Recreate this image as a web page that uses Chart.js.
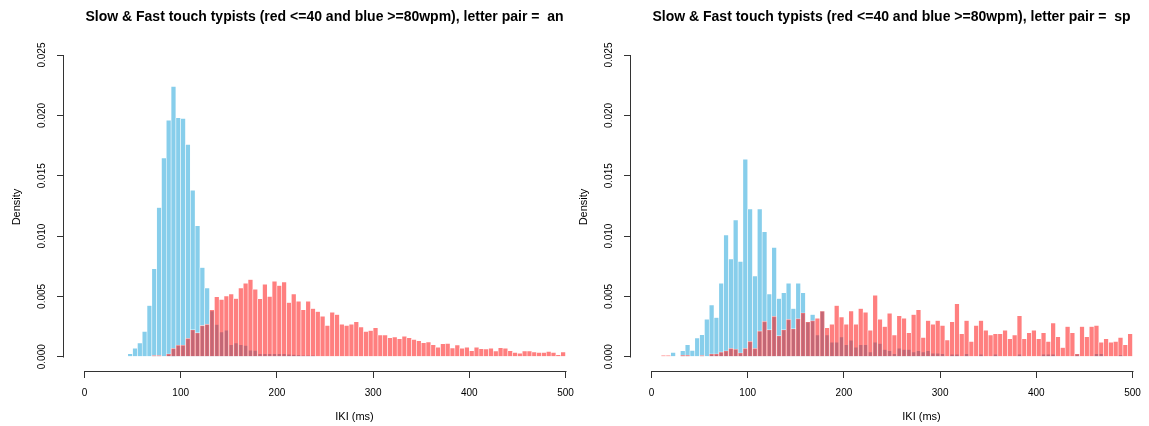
<!DOCTYPE html>
<html>
<head>
<meta charset="utf-8">
<title>IKI histograms</title>
<script src="https://cdn.jsdelivr.net/npm/chart.js@4.4.1/dist/chart.umd.min.js"></script>
<style>
  html, body { margin: 0; padding: 0; background: #fff; overflow: hidden; }
  body { width: 1149px; height: 426px; position: relative; }
  .panel { position: absolute; top: 0; }
</style>
</head>
<body>
<div class="panel" style="left:0"><canvas id="chartAn" width="650" height="426"></canvas></div>
<div class="panel" style="left:567px"><canvas id="chartSp" width="650" height="426"></canvas></div>
<script>
// histogram bins are 5 ms wide, 0..500 ms
const binWidth = 5;
const xTicks = [0, 100, 200, 300, 400, 500];
const yTicks = [0, 0.005, 0.010, 0.015, 0.020, 0.025];

// letter pair "an": density per bin, fast (>=80wpm) and slow (<=40wpm)
const anFast = [
  0, 0, 0, 0, 0, 0, 0, 0, 0, 0.00025,
  0.0007, 0.00114, 0.0021, 0.00425, 0.0073, 0.01236, 0.01647, 0.0196, 0.0224, 0.0198,
  0.01975, 0.0176, 0.0138, 0.01086, 0.0074, 0.0057, 0.0038, 0.00267, 0.00205, 0.0022,
  0.001, 0.00114, 0.001, 0.00094, 0.00055, 0.00053, 0.00025, 0.00025, 0.00025, 0.00025,
  0.00025, 0.00025, 0.0002, 0.00018, 0.00015, 0.0001, 0.0001, 0.0001, 0, 0,
  0, 0, 0, 0, 0, 0, 0, 0, 0, 0,
  0, 0, 0, 0, 0, 0, 0, 0, 0, 0,
  0, 0, 0, 0, 0, 0, 0, 0, 0, 0,
  0, 0, 0, 0, 0, 0, 0, 0, 0, 0,
  0, 0, 0, 0, 0, 0, 0, 0, 0, 0
];
const anSlow = [
  0, 0, 0, 0, 0, 0, 0, 0, 0, 0,
  0, 0, 0, 0, 0.00012, 0.00012, 0, 0.00025, 0.0007, 0.00097,
  0.00097, 0.00153, 0.00225, 0.002, 0.0026, 0.0027, 0.0039, 0.00497, 0.00475, 0.00503,
  0.0052, 0.00483, 0.0057, 0.0061, 0.0064, 0.0056, 0.0048, 0.006, 0.005, 0.00625,
  0.0059, 0.0062, 0.0045, 0.0052, 0.0046, 0.0039, 0.0046, 0.004, 0.00375, 0.00336,
  0.0026, 0.0037, 0.0035, 0.0027, 0.0026, 0.0027, 0.0029, 0.00247, 0.0021, 0.00217,
  0.0024, 0.0018, 0.0018, 0.00158, 0.00164, 0.0015, 0.0017, 0.00158, 0.00144, 0.00133,
  0.00117, 0.00122, 0.001, 0.0008, 0.00108, 0.00111, 0.00072, 0.00097, 0.0007, 0.0008,
  0.0005, 0.0008, 0.00067, 0.00065, 0.0007, 0.00047, 0.00075, 0.0007, 0.0005, 0.00036,
  0.0003, 0.00047, 0.00047, 0.0004, 0.00036, 0.00036, 0.00044, 0.00036, 0.00017, 0.0004
];

// letter pair "sp"
const spFast = [
  0, 0, 0, 0, 0.00036, 0, 0.0005, 0.001, 0.00053, 0.00156,
  0.00183, 0.0031, 0.0043, 0.00325, 0.0061, 0.0101, 0.0081, 0.01133, 0.0079, 0.01636,
  0.01225, 0.0067, 0.01225, 0.01036, 0.0052, 0.00906, 0.00483, 0.0053, 0.0061, 0.004,
  0.0061, 0.0053, 0.0029, 0.0035, 0.0018, 0.0038, 0.0018, 0.0012, 0.0012, 0.00164,
  0.001, 0.00136, 0.0008, 0.001, 0.001, 0.0004, 0.0012, 0.0011, 0.0006, 0.0005,
  0.00025, 0.0007, 0.0006, 0.0006, 0.0004, 0.0005, 0.0004, 0.0005, 0.0003, 0.0003,
  0.00025, 0, 0.0002, 0.0002, 0, 0.00025, 0, 0, 0.0002, 0,
  0, 0.0002, 0, 0, 0, 0, 0.0002, 0, 0, 0,
  0, 0.0002, 0.0002, 0.0002, 0, 0, 0, 0, 0.00025, 0,
  0, 0, 0.00025, 0.00025, 0, 0, 0, 0.00015, 0, 0
];
const spSlow = [
  0, 0, 0.00012, 0.00012, 0, 0, 0.00014, 0.00014, 0, 0,
  0.00012, 0, 0.00025, 0.00025, 0.0004, 0.0005, 0.0007, 0.00064, 0.00033, 0.0007,
  0.00128, 0.0007, 0.00214, 0.00294, 0.00225, 0.00336, 0.00175, 0.00225, 0.0031, 0.00233,
  0.00317, 0.00364, 0.0029, 0.003, 0.0032, 0.0038, 0.0024, 0.0027, 0.00425, 0.0033,
  0.0027, 0.0038, 0.0027, 0.004, 0.0037, 0.0022, 0.0051, 0.0031, 0.0025, 0.0036,
  0.0018, 0.0034, 0.0032, 0.002, 0.0035, 0.0039, 0.0016, 0.003, 0.0027, 0.003,
  0.0026, 0.0014, 0.0029, 0.0044, 0.0019, 0.003, 0.00127, 0.0026, 0.003, 0.0022,
  0.0018, 0.0019, 0.0019, 0.0022, 0.0015, 0.0018, 0.0034, 0.0015, 0.002, 0.0022,
  0.0015, 0.002, 0.00127, 0.0028, 0.00166, 0.00077, 0.0025, 0.002, 0.00025, 0.0025,
  0.00166, 0.0025, 0.0026, 0.0012, 0.0015, 0.0012, 0.00127, 0.0016, 0.001, 0.0019
];

const fastColor = '#87ceeb';
const slowColor = 'rgba(255, 0, 0, 0.5)';
const edgeColor = 'rgba(255, 255, 255, 0.7)';
const axisColor = '#333';
const textColor = '#000';
const family = '"Liberation Sans", Arial, Helvetica, sans-serif';

// one bar per non-empty bin, placed at the bin centre
function toPoints(values) {
  return values
    .map((v, i) => ({ x: i * binWidth + binWidth / 2, y: v }))
    .filter(p => p.y > 0);
}

// R-style axis lines: only from the first to the last tick
const axisLines = {
  id: 'axisLines',
  afterDraw(chart) {
    const { ctx, chartArea, scales: { x, y } } = chart;
    ctx.save();
    ctx.strokeStyle = axisColor;
    ctx.lineWidth = 1;
    ctx.beginPath();
    const yb = Math.round(chartArea.bottom) + 0.5;
    ctx.moveTo(Math.round(x.getPixelForValue(xTicks[0])) + 0.5, yb);
    ctx.lineTo(Math.round(x.getPixelForValue(xTicks[xTicks.length - 1])) + 0.5, yb);
    const xl = Math.round(chartArea.left) - 0.5;
    ctx.moveTo(xl, Math.round(y.getPixelForValue(yTicks[0])) + 0.5);
    ctx.lineTo(xl, Math.round(y.getPixelForValue(yTicks[yTicks.length - 1])) + 0.5);
    ctx.stroke();
    ctx.restore();
  }
};

function makeChart(id, pair, fast, slow) {
  const tickGrid = {
    display: true,
    drawOnChartArea: false,
    drawTicks: true,
    tickLength: 7,
    color: axisColor,
    offset: false
  };
  return new Chart(document.getElementById(id), {
    type: 'bar',
    data: {
      datasets: [
        {
          label: 'red <=40wpm',
          data: toPoints(slow),
          backgroundColor: slowColor,
          borderColor: edgeColor,
          borderWidth: 0.6,
          order: 1
        },
        {
          label: 'blue >=80wpm',
          data: toPoints(fast),
          backgroundColor: fastColor,
          borderColor: edgeColor,
          borderWidth: 0.6,
          order: 2
        }
      ]
    },
    options: {
      responsive: false,
      animation: false,
      layout: { padding: { left: 4, right: 5, top: 0, bottom: 0 } },
      datasets: { bar: { grouped: false, barPercentage: 1, categoryPercentage: 1 } },
      plugins: {
        legend: { display: false },
        tooltip: { enabled: false },
        title: {
          display: true,
          text: 'Slow & Fast touch typists (red <=40 and blue >=80wpm), letter pair =  ' + pair,
          color: textColor,
          font: { family, size: 14, weight: 'bold', lineHeight: 1.2 },
          padding: { top: 8.6, bottom: 17.6 }
        }
      },
      scales: {
        x: {
          type: 'linear',
          min: -21.3,
          max: 582.6,
          offset: false,
          afterBuildTicks: s => { s.ticks = xTicks.map(v => ({ value: v })); },
          afterFit: s => { s.height = 55; },
          grid: tickGrid,
          border: { display: false },
          ticks: {
            autoSkip: false,
            maxRotation: 0,
            padding: 9,
            color: textColor,
            font: { family, size: 10 },
            callback: v => String(v)
          },
          title: {
            display: true,
            text: 'IKI (ms)',
            color: textColor,
            font: { family, size: 11 },
            padding: { top: 0, bottom: 2.4 }
          }
        },
        y: {
          type: 'linear',
          min: -0.00118,
          max: 0.026,
          afterBuildTicks: s => { s.ticks = yTicks.map(v => ({ value: v })); },
          afterFit: s => { s.width = 60; },
          grid: tickGrid,
          border: { display: false },
          ticks: {
            minRotation: 90,
            maxRotation: 90,
            crossAlign: 'center',
            padding: 2.3,
            color: textColor,
            font: { family, size: 10 },
            callback: v => v.toFixed(3)
          },
          title: {
            display: true,
            text: 'Density',
            color: textColor,
            font: { family, size: 11 },
            padding: { top: 6.4, bottom: 0 }
          }
        }
      }
    },
    plugins: [axisLines]
  });
}

makeChart('chartAn', 'an', anFast, anSlow);
makeChart('chartSp', 'sp', spFast, spSlow);
</script>
</body>
</html>
